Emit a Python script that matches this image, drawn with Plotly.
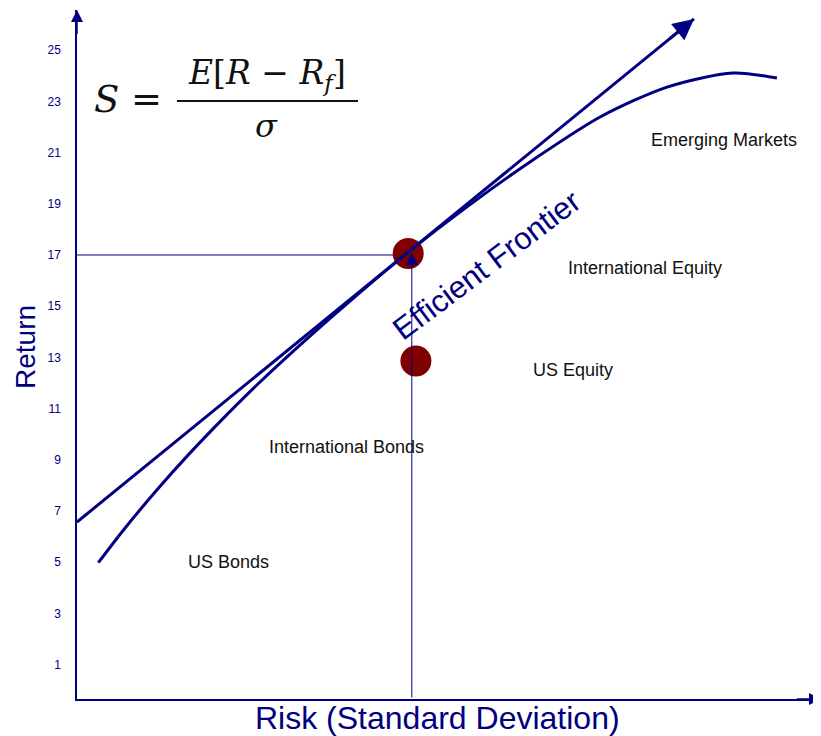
import plotly.graph_objects as go

# ---------------- data ----------------
frontier_risk = [0.83, 1.79, 3.12, 4.40, 5.69, 7.02, 8.69, 10.64, 12.91, 15.20, 17.77, 20.39, 23.00, 25.57, 27.28]
frontier_return = [4.98, 6.23, 7.83, 9.26, 10.61, 11.93, 13.48, 15.20, 17.11, 18.88, 20.71, 22.39, 23.56, 24.11, 23.91]

cml_risk = [0.0, 24.05]
cml_return = [6.57, 26.22]

dot_risk = [12.91, 13.21]
dot_return = [17.06, 12.86]

guide_risk = 13.05
guide_return = 17.0

asset_names = ["Emerging Markets", "International Equity", "US Equity", "International Bonds", "US Bonds"]
asset_risk = [25.22, 22.14, 19.33, 10.52, 5.89]
asset_return = [21.49, 16.49, 12.51, 9.50, 5.00]

ytick_vals = [1, 3, 5, 7, 9, 11, 13, 15, 17, 19, 21, 23, 25]
ytick_text = [str(v) for v in ytick_vals]

x_range = [0, 29]
y_range = [-0.344, 26.57]

NAVY = "#000080"
MAROON = "#800000"
FONT = "Liberation Sans, Arial"
SERIF = "DejaVu Serif"

fig = go.Figure()

# horizontal guide
fig.add_trace(go.Scatter(x=[x_range[0], dot_risk[0]], y=[guide_return, guide_return],
                         mode="lines", line=dict(color=NAVY, width=1), hoverinfo="skip"))

# dots
fig.add_trace(go.Scatter(x=dot_risk, y=dot_return, mode="markers",
                         marker=dict(color=MAROON, size=31, line=dict(width=0)), hoverinfo="skip"))

# efficient frontier
fig.add_trace(go.Scatter(x=frontier_risk, y=frontier_return, mode="lines",
                         line=dict(color=NAVY, width=3, shape="spline", smoothing=0.8), hoverinfo="skip"))

# capital market line
fig.add_trace(go.Scatter(x=cml_risk, y=cml_return, mode="lines",
                         line=dict(color=NAVY, width=3), hoverinfo="skip"))

annotations = []

# CML arrowhead
slope = (cml_return[1] - cml_return[0]) / (cml_risk[1] - cml_risk[0])
tail_x = cml_risk[1] - 1.0
annotations.append(dict(x=cml_risk[1], y=cml_return[1], ax=tail_x, ay=cml_return[0] + slope * (tail_x - cml_risk[0]),
                        xref="x", yref="y", axref="x", ayref="y", showarrow=True, text="",
                        arrowhead=2, arrowsize=1.4, arrowwidth=3, arrowcolor=NAVY))

# vertical guide with arrowhead
annotations.append(dict(x=guide_risk, y=guide_return + 0.1, ax=guide_risk, ay=y_range[0],
                        xref="x", yref="y", axref="x", ayref="y", showarrow=True, text="",
                        arrowhead=2, arrowsize=2.5, arrowwidth=1, arrowcolor=NAVY))

# axis arrowheads
annotations.append(dict(x=x_range[0], y=y_range[1], ax=x_range[0], ay=y_range[1] - 1.0,
                        xref="x", yref="y", axref="x", ayref="y", showarrow=True, text="",
                        arrowhead=2, arrowsize=1.6, arrowwidth=1.5, arrowcolor=NAVY))
annotations.append(dict(x=x_range[1], y=y_range[0], ax=x_range[1] - 1.0, ay=y_range[0],
                        xref="x", yref="y", axref="x", ayref="y", showarrow=True, text="",
                        arrowhead=2, arrowsize=1.6, arrowwidth=1.5, arrowcolor=NAVY))

# asset labels
for name, xr, yr in zip(asset_names, asset_risk, asset_return):
    annotations.append(dict(x=xr, y=yr, xref="x", yref="y", text=name, showarrow=False,
                            xanchor="center", yanchor="middle",
                            font=dict(size=18, color="#111111", family=FONT)))

# Efficient Frontier label
annotations.append(dict(x=15.95, y=16.6, xref="x", yref="y", text="Efficient Frontier", showarrow=False,
                        xanchor="center", yanchor="middle",
                        textangle=-37, font=dict(size=31, color=NAVY, family=FONT)))

# page-pixel helpers (page has an 8px body margin)
L, B, W, H = 77, 699, 744, 689
def px(xp):
    return (xp - L) / W
def py(yp):
    return (B - yp) / H

# axis titles
annotations.append(dict(x=px(25), y=py(347), xref="paper", yref="paper", text="Return", textangle=-90,
                        xanchor="center", yanchor="middle",
                        showarrow=False, font=dict(size=28, color=NAVY, family=FONT)))
annotations.append(dict(x=px(437), y=py(718), xref="paper", yref="paper", text="Risk (Standard Deviation)",
                        xanchor="center", yanchor="middle",
                        showarrow=False, font=dict(size=32, color=NAVY, family=FONT)))

# formula
FORM = "#111111"
annotations.append(dict(x=px(128), y=py(99), xref="paper", yref="paper", text="<i>S</i> =",
                        xanchor="center", yanchor="middle",
                        showarrow=False, font=dict(size=37, color=FORM, family=SERIF)))
annotations.append(dict(x=px(267), y=py(74), xref="paper", yref="paper",
                        text="<i>E</i>[<i>R</i> − <i>R<sub>f</sub></i>]",
                        xanchor="center", yanchor="middle",
                        showarrow=False, font=dict(size=33, color=FORM, family=SERIF)))
annotations.append(dict(x=px(266), y=py(126), xref="paper", yref="paper", text="<i>σ</i>",
                        xanchor="center", yanchor="middle",
                        showarrow=False, font=dict(size=32, color=FORM, family=SERIF)))

shapes = [dict(type="line", xref="paper", yref="paper", x0=px(177), x1=px(358), y0=py(101), y1=py(101),
               line=dict(color=FORM, width=2))]

fig.update_layout(
    width=813, height=728,
    margin=dict(l=L - 8, r=0, t=10 - 8, b=728 - (B - 8)),
    paper_bgcolor="white", plot_bgcolor="white",
    showlegend=False,
    font=dict(family=FONT, color=NAVY),
    annotations=annotations,
    shapes=shapes,
    xaxis=dict(range=x_range, showgrid=False, zeroline=False, showticklabels=False,
               showline=True, linecolor=NAVY, linewidth=1.5, ticks=""),
    yaxis=dict(range=y_range, showgrid=False, zeroline=False, tickvals=ytick_vals, ticktext=ytick_text,
               tickfont=dict(size=12, color=NAVY), showline=True, linecolor=NAVY, linewidth=1.5,
               ticks="", ticklabelstandoff=12),
)

fig.write_html("out.html")
